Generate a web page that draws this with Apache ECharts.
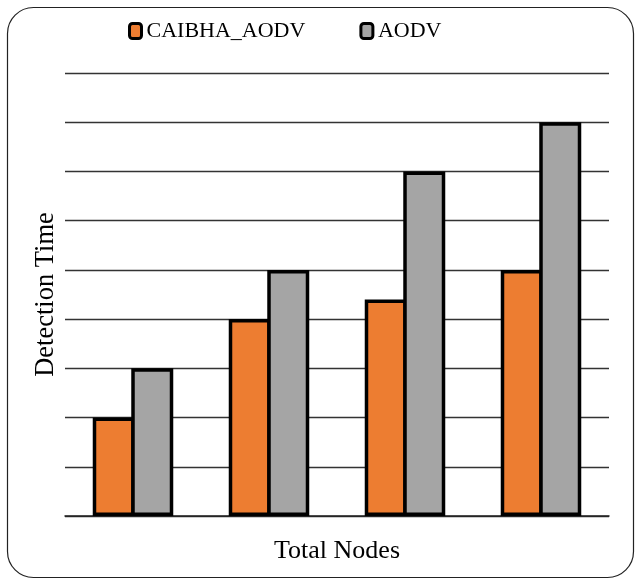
<!DOCTYPE html>
<html>
<head>
<meta charset="utf-8">
<script src="https://cdn.jsdelivr.net/npm/echarts@6/dist/echarts.min.js"></script>
<style>html,body{margin:0;padding:0;background:#fff}#c{width:636px;height:580px}</style>
</head>
<body>
<div id="c"></div>
<script>
var categories = ['G1', 'G2', 'G3', 'G4'];
var caibhaValues = [2, 4, 4.4, 5];
var aodvValues = [3, 5, 7, 8];
var seriesNames = ['CAIBHA_AODV', 'AODV'];

var chart = echarts.init(document.getElementById('c'));
var serif = 'Liberation Serif';
chart.setOption({
  animation: false,
  backgroundColor: '#fff',
  textStyle: { fontFamily: serif },
  graphic: [{
    type: 'rect', left: 5, top: 5,
    shape: { width: 626, height: 570, r: 26 },
    style: { fill: 'none', stroke: '#222', lineWidth: 1.2 }
  }],
  legend: {
    show: true,
    top: 15, left: 123,
    itemWidth: 12, itemHeight: 15, itemGap: 54,
    textStyle: { fontFamily: serif, fontSize: 22, color: '#000' },
    itemStyle: { borderColor: '#000', borderWidth: 3 },
    data: seriesNames
  },
  grid: { left: 65, right: 27, top: 73, bottom: 64 },
  xAxis: {
    type: 'category', data: categories,
    name: 'Total Nodes', nameLocation: 'middle', nameGap: 22,
    nameTextStyle: { fontFamily: serif, fontSize: 26, color: '#000' },
    axisLine: { show: true, lineStyle: { color: '#222', width: 1.5 } },
    axisTick: { show: false }, axisLabel: { show: false }
  },
  yAxis: {
    type: 'value', min: 0, max: 9, interval: 1,
    name: 'Detection Time', nameLocation: 'middle', nameGap: 5,
    nameTextStyle: { fontFamily: serif, fontSize: 26.5, color: '#000' },
    axisLine: { show: false }, axisTick: { show: false }, axisLabel: { show: false },
    splitLine: { lineStyle: { color: '#333', width: 1.3 } }
  },
  series: [{
    name: seriesNames[0], type: 'bar', data: caibhaValues,
    barWidth: 42, barGap: '-8.3%',
    itemStyle: { color: '#ED7D31', borderColor: '#000', borderWidth: 3.5 }
  }, {
    name: seriesNames[1], type: 'bar', data: aodvValues,
    barWidth: 42, barGap: '-8.3%',
    itemStyle: { color: '#A5A5A5', borderColor: '#000', borderWidth: 3.5 }
  }]
});
</script>
</body>
</html>
